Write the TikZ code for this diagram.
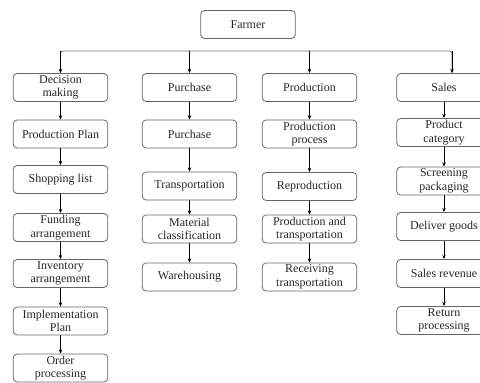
\documentclass[tikz,border=0pt]{standalone}
\usepackage{fontspec}
\setmainfont{Liberation Serif}
\usetikzlibrary{arrows.meta}
\tikzset{
	box/.style={draw=black!60, line width=0.6pt, rounded corners=3pt, minimum width=71pt, minimum height=21pt, inner sep=0.5pt, align=center, text=black!85, font=\fontsize{9}{10.2}\selectfont},
	arr/.style={-{Stealth[length=3.2pt,width=2.6pt]}, line width=0.6pt, black},
	trunk/.style={draw=black!55, line width=0.6pt, rounded corners=2pt}
}

\begin{document}
\begin{tikzpicture}[x=0.75pt,y=-0.75pt]
			%%%%% START %%%%%
			\useasboundingbox (0,0) rectangle (480,383);
			
			\node[box] (farmer) at (248, 24.5) {Farmer};
			\coordinate (bar) at (248, 51);
			
			% decision making
			\node[box] (dm) at (60.5, 87.5) {Decision\\making};
			\node[box] (pp) at (60.5, 134) {Production Plan};
			\node[box] (sl) at (60.5, 179.5) {Shopping list};
			\node[box] (fa) at (60.5, 227.5) {Funding\\arrangement};
			\node[box] (ia) at (60.5, 273.5) {Inventory\\arrangement};
			\node[box] (ip) at (60.5, 321) {Implementation\\Plan};
			\node[box] (op) at (60.5, 368) {Order\\processing};
			
			% purchase
			\node[box] (pu) at (189.5, 87.5) {Purchase};
			\node[box] (pub) at (189.5, 134) {Purchase};
			\node[box] (tr) at (189.5, 186) {Transportation};
			\node[box] (mc) at (189.5, 229) {Material\\classification};
			\node[box] (wh) at (189.5, 277) {Warehousing};
			
			% production
			\node[box] (pr) at (309.5, 87.5) {Production};
			\node[box] (pps) at (309.5, 134) {Production\\process};
			\node[box] (re) at (309.5, 186.5) {Reproduction};
			\node[box] (pt) at (309.5, 229) {Production and\\transportation};
			\node[box] (rt) at (309.5, 277) {Receiving\\transportation};
			
			% sales
			\node[box] (sa) at (444, 87.5) {Sales};
			\node[box] (pc) at (444, 132.5) {Product\\category};
			\node[box] (sp) at (444, 181) {Screening\\packaging};
			\node[box] (dg) at (444, 226.5) {Deliver goods};
			\node[box] (sr) at (444, 273.5) {Sales revenue};
			\node[box] (rp) at (444, 320.5) {Return\\processing};
			
			\draw[trunk] (dm.north) |- (bar) -| ([xshift=6pt]sa.north);
			\draw[arr] (dm.north |- bar) -- (dm.north);
			\draw[arr] (pu.north |- bar) -- (pu.north);
			\draw[arr] (pr.north |- bar) -- (pr.north);
			\draw[arr] ([xshift=6pt]sa.north |- bar) -- ([xshift=6pt]sa.north);
			
			\draw[arr] (dm) -- (pp);
			\draw[arr] (pp) -- (sl);
			\draw[arr] (sl) -- (fa);
			\draw[arr] (fa) -- (ia);
			\draw[arr] (ia) -- (ip);
			\draw[arr] (ip) -- (op);
			
			\draw[arr] (pu) -- (pub);
			\draw[arr] (pub) -- (tr);
			\draw[arr] (tr) -- (mc);
			\draw[arr] (mc) -- (wh);
			
			\draw[arr] (pr) -- (pps);
			\draw[arr] (pps) -- (re);
			\draw[arr] (re) -- (pt);
			\draw[arr] (pt) -- (rt);
			
			\draw[arr] (sa) -- (pc);
			\draw[arr] (pc) -- (sp);
			\draw[arr] (sp) -- (dg);
			\draw[arr] (dg) -- (sr);
			\draw[arr] (sr) -- (rp);
			
			%%%%% END %%%%%
\end{tikzpicture}
\end{document}
